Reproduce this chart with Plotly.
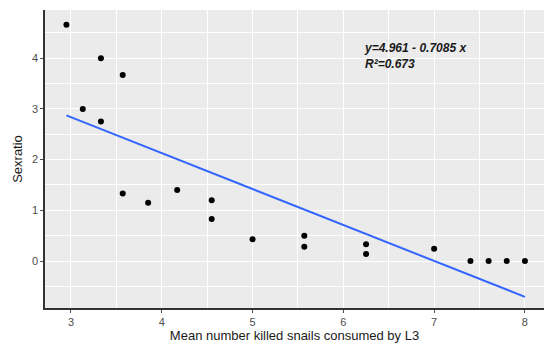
import numpy as np
import plotly.graph_objects as go

# Mean number of killed snails consumed by L3 vs. sex ratio
consumed = [2.95, 3.13, 3.33, 3.33, 3.57, 3.57, 3.85, 4.17, 4.55, 4.55,
            5.00, 5.57, 5.57, 6.25, 6.25, 7.00, 7.40, 7.60, 7.80, 8.00]
sexratio = [4.66, 3.00, 4.00, 2.75, 3.67, 1.33, 1.15, 1.40, 1.20, 0.83,
            0.43, 0.50, 0.28, 0.33, 0.14, 0.24, 0.00, 0.00, 0.00, 0.00]

# Fitted regression: y = 4.961 - 0.7085 x
intercept = 4.961
slope = -0.7085
r_squared = 0.673

x_fit = np.array([min(consumed), max(consumed)])
y_fit = intercept + slope * x_fit

fig = go.Figure()
fig.add_trace(go.Scatter(
    x=x_fit, y=y_fit, mode="lines",
    line=dict(color="#3366FF", width=2),
    showlegend=False, hoverinfo="skip",
))
fig.add_trace(go.Scatter(
    x=consumed, y=sexratio, mode="markers",
    marker=dict(color="black", size=6),
    showlegend=False,
))

fig.add_annotation(
    x=6.2, y=4.05, xref="x", yref="y", xanchor="left", yanchor="middle",
    text=f"<b><i>y={intercept} - {abs(slope)} x<br>R²={r_squared}</i></b>",
    showarrow=False, align="left",
    font=dict(family="Liberation Sans Narrow, Liberation Sans, Arial", size=12, color="#1a1a1a"),
)

axis_common = dict(
    showgrid=True, gridcolor="white", gridwidth=1.1,
    zeroline=False,
    showline=True, linecolor="#333333", linewidth=1.5,
    ticks="outside", ticklen=3, tickcolor="#4D4D4D", tickwidth=1,
    tickfont=dict(family="Liberation Sans, Arial", size=11, color="#4D4D4D"),
    minor=dict(showgrid=True, gridcolor="white", gridwidth=0.6, dtick=0.5),
    dtick=1,
)

fig.update_layout(
    width=544, height=347,
    margin=dict(l=45, r=0, t=10, b=39),
    paper_bgcolor="white", plot_bgcolor="#EBEBEB",
    xaxis=dict(range=[2.714, 8.21], tick0=3,
               title=dict(text="Mean number killed snails consumed by L3",
                          font=dict(family="Liberation Sans, Arial", size=13, color="#1a1a1a"),
                          standoff=4),
               **axis_common),
    yaxis=dict(range=[-0.927, 4.95], tick0=0,
               title=dict(text="Sexratio",
                          font=dict(family="Liberation Sans, Arial", size=13, color="#1a1a1a"),
                          standoff=6),
               **axis_common),
)

fig.write_html("out.html")
